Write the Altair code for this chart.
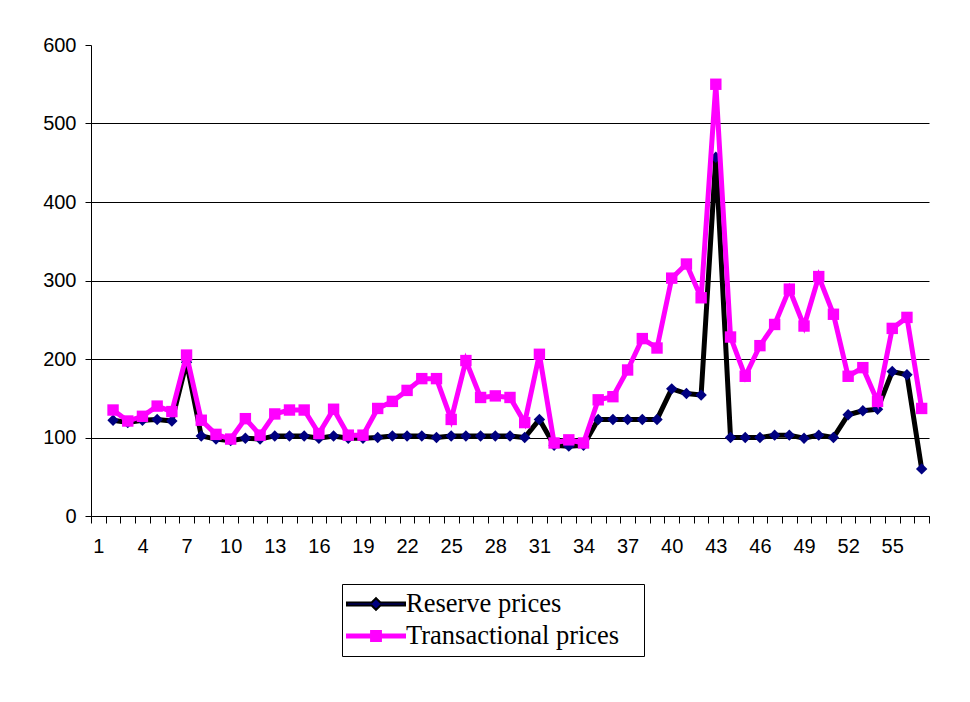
import altair as alt
import pandas as pd

# categories 1..57; the first category has no data
categories = list(range(2, 58))
reserve = [122, 119, 122, 123, 121, 196, 102, 98, 96, 99, 98, 102, 102, 102, 99, 102,
           99, 99, 100, 102, 102, 102, 100, 102, 102, 102, 102, 102, 100, 123, 90, 89,
           90, 123, 123, 123, 123, 123, 162, 156, 154, 457, 100, 100, 100, 103, 103, 99,
           103, 100, 129, 134, 136, 184, 180, 60]
transactional = [135, 121, 127, 140, 133, 205, 122, 104, 98, 124, 103, 130, 135, 135, 105, 136,
                 103, 103, 137, 146, 160, 175, 175, 123, 198, 151, 153, 151, 119, 206, 93, 97,
                 93, 148, 152, 186, 226, 214, 303, 321, 278, 550, 228, 178, 217, 244, 289, 242,
                 305, 257, 178, 189, 146, 239, 253, 137]
series_names = ["Reserve prices", "Transactional prices"]
x_tick_labels = list(range(1, 58, 3))
y_ticks = [0, 100, 200, 300, 400, 500, 600]

df_r = pd.DataFrame({"cat": categories, "value": reserve, "series": series_names[0]})
df_t = pd.DataFrame({"cat": categories, "value": transactional, "series": series_names[1]})
df = pd.concat([df_r, df_t], ignore_index=True)

x_scale = alt.Scale(domain=[0.5, 57.5], nice=False, zero=False)
y_scale = alt.Scale(domain=[0, 600], nice=False)

y_axis = alt.Axis(
    values=y_ticks, title=None, grid=True, gridColor="black", gridWidth=1,
    gridOpacity={"condition": {"test": "datum.value == 600", "value": 0}, "value": 1},
    domainColor="black", domainWidth=1, tickColor="black", tickSize=6, tickWidth=1,
    labelFont="Liberation Sans", labelFontSize=20, labelColor="black", labelPadding=9,
)
x_tick_axis = alt.Axis(
    orient="bottom",
    values=[c + 0.5 for c in range(0, 58)], labels=False, title=None, grid=False,
    domainColor="black", domainWidth=1, tickColor="black", tickSize=7, tickWidth=1,
)
x_label_axis = alt.Axis(
    orient="bottom",
    values=x_tick_labels, title=None, grid=False, domain=False, ticks=False, tickSize=0,
    labelFont="Liberation Sans", labelFontSize=20, labelColor="black", labelPadding=20,
    labelBaseline="top",
)

base = alt.Chart(df)

def enc(axis_x):
    return dict(
        x=alt.X("cat:Q", scale=x_scale, axis=axis_x),
        y=alt.Y("value:Q", scale=y_scale, axis=y_axis),
    )

r_line = base.transform_filter(alt.datum.series == series_names[0]).mark_line(
    color="black", strokeWidth=5).encode(**enc(x_tick_axis))
r_pts = base.transform_filter(alt.datum.series == series_names[0]).mark_point(
    shape="diamond", filled=True, color="#000080", size=130, opacity=1).encode(**enc(x_label_axis))
t_line = base.transform_filter(alt.datum.series == series_names[1]).mark_line(
    color="#FF00FF", strokeWidth=5).encode(**enc(None))
t_pts = base.transform_filter(alt.datum.series == series_names[1]).mark_point(
    shape="square", filled=True, color="#FF00FF", size=130, opacity=1).encode(**enc(None))

diamond_sym = "M-1,-0.05H-0.15L0,-0.2L0.15,-0.05H1V0.05H0.15L0,0.2L-0.15,0.05H-1Z"
square_sym = "M-1,-0.05H-0.17V-0.17H0.17V-0.05H1V0.05H0.17V0.17H-0.17V0.05H-1Z"

legend = alt.Legend(
    title=None, orient="none", legendX=251, legendY=539,
    strokeColor="black", fillColor="white", padding=4, symbolSize=3364,
    symbolStrokeWidth=2, clipHeight=32, rowPadding=0, labelOffset=0,
    labelFont="Liberation Serif", labelFontSize=26.5, labelColor="black",
    labelExpr="datum.label + '\u2800'", labelLimit=400,
)
legend_layer = base.transform_filter("false").mark_point(filled=False, opacity=1).encode(
    shape=alt.Shape("series:N", scale=alt.Scale(domain=series_names, range=[diamond_sym, square_sym]), legend=legend),
    fill=alt.Fill("series:N", scale=alt.Scale(domain=series_names, range=["#000080", "#FF00FF"]), legend=legend),
    stroke=alt.Stroke("series:N", scale=alt.Scale(domain=series_names, range=["black", "#FF00FF"]), legend=legend),
)

chart = alt.layer(r_line, r_pts, t_line, t_pts, legend_layer).resolve_axis(
    x="independent"
).properties(
    width=838, height=471,
    padding={"left": 34, "top": 27, "right": 20, "bottom": 10},
    background="white",
).configure_view(stroke=None)

chart.save("out.html", embed_options={"renderer": "svg", "actions": False})
